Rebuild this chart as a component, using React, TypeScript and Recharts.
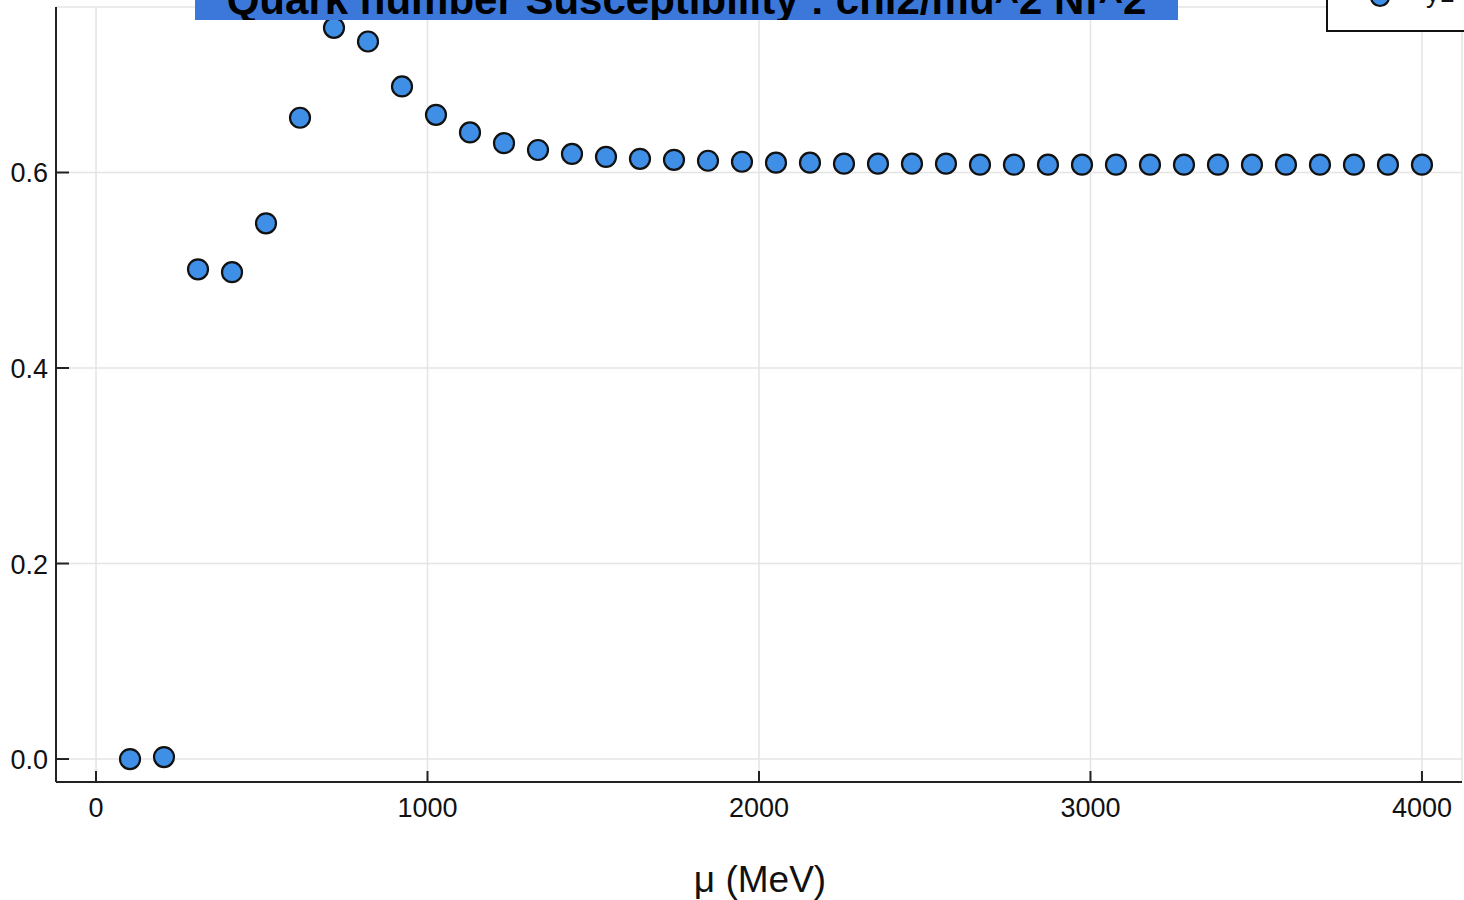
import React from "react";
import { ScatterChart, Scatter, XAxis, YAxis, CartesianGrid } from "recharts";

const muValues = [
  102.6, 205.1, 307.7, 410.3, 512.8, 615.4, 717.9, 820.5, 923.1, 1025.6,
  1128.2, 1230.8, 1333.3, 1435.9, 1538.5, 1641.0, 1743.6, 1846.2, 1948.7, 2051.3,
  2153.8, 2256.4, 2359.0, 2461.5, 2564.1, 2666.7, 2769.2, 2871.8, 2974.4, 3076.9,
  3179.5, 3282.1, 3384.6, 3487.2, 3589.7, 3692.3, 3794.9, 3897.4, 4000.0,
];
const chiValues = [
  0.0, 0.002, 0.501, 0.498, 0.548, 0.656, 0.748, 0.734, 0.688, 0.659,
  0.641, 0.630, 0.623, 0.619, 0.616, 0.614, 0.613, 0.612, 0.611, 0.610,
  0.610, 0.609, 0.609, 0.609, 0.609, 0.608, 0.608, 0.608, 0.608, 0.608,
  0.608, 0.608, 0.608, 0.608, 0.608, 0.608, 0.608, 0.608, 0.608,
];
const xTicks = [0, 1000, 2000, 3000, 4000];
const yTicks = [0.0, 0.2, 0.4, 0.6];
const yTickLabels = ["0.0", "0.2", "0.4", "0.6"];

const titleText = "Quark number Susceptibility : chi2/mu^2 Nf^2";
const xLabel = "μ (MeV)";
const legendLabel = "y1";

const data = muValues.map((x, i) => ({ x, y: chiValues[i] }));

const FONT = "'Liberation Sans', Arial, Helvetica, sans-serif";
const FILL = "#3f8fe6";

const Marker = (props: any) => {
  const { cx, cy } = props;
  return <circle cx={cx} cy={cy} r={10} fill={FILL} stroke="#111" strokeWidth={2.2} />;
};

const XTick = (props: any) => {
  const { x, y, payload } = props;
  return (
    <g>
      <line x1={x} y1={y} x2={x} y2={y - 11} stroke="#222" strokeWidth={2} />
      <text x={x} y={y + 35} textAnchor="middle" fontSize={27} fill="#111" fontFamily={FONT}>
        {payload.value}
      </text>
    </g>
  );
};

const YTick = (props: any) => {
  const { x, y, payload, index } = props;
  const idx = yTicks.indexOf(payload.value);
  return (
    <g>
      <line x1={x} y1={y} x2={x + 13} y2={y} stroke="#222" strokeWidth={2} />
      <text x={x - 8} y={y + 10} textAnchor="end" fontSize={27} fill="#111" fontFamily={FONT}>
        {idx >= 0 ? yTickLabels[idx] : yTickLabels[index]}
      </text>
    </g>
  );
};

export default function App() {
  return (
    <div
      style={{
        position: "absolute",
        left: 0,
        top: 0,
        width: 1464,
        height: 900,
        overflow: "hidden",
        background: "#fff",
        fontFamily: FONT,
      }}
    >
      <ScatterChart
        width={1464}
        height={900}
        margin={{ top: 7, right: 2, bottom: 0, left: 0 }}
      >
        <CartesianGrid stroke="#e4e4e4" strokeWidth={1.5} />
        <XAxis
          type="number"
          dataKey="x"
          domain={[-120.7, 4120.8]}
          ticks={xTicks}
          allowDataOverflow
          height={118}
          tickSize={0}
          tickMargin={0}
          tickLine={false}
          axisLine={{ stroke: "#222", strokeWidth: 2 }}
          tick={<XTick />}
          interval={0}
        />
        <YAxis
          type="number"
          dataKey="y"
          domain={[-0.0235, 0.7693]}
          ticks={yTicks}
          allowDataOverflow
          width={56}
          tickSize={0}
          tickMargin={0}
          tickLine={false}
          axisLine={{ stroke: "#222", strokeWidth: 2 }}
          tick={<YTick />}
          interval={0}
        />
        <Scatter data={data} shape={<Marker />} isAnimationActive={false} />
      </ScatterChart>

      <div
        style={{
          position: "absolute",
          left: 760,
          top: 840,
          transform: "translateX(-50%)",
          whiteSpace: "nowrap",
          fontSize: 37,
          color: "#111",
          lineHeight: "80px",
          height: 80,
        }}
      >
        {xLabel}
      </div>

      <div
        style={{
          position: "absolute",
          left: 195,
          top: 0,
          width: 983,
          height: 20,
          background: "#3b78d9",
          overflow: "hidden",
        }}
      >
        <div
          style={{
            position: "absolute",
            left: 0,
            width: 983,
            top: -21,
            textAlign: "center",
            fontWeight: "bold",
            fontSize: 42,
            lineHeight: "42px",
            color: "#000",
            whiteSpace: "nowrap",
          }}
        >
          {titleText}
        </div>
      </div>

      <div
        style={{
          position: "absolute",
          left: 1326,
          top: -40,
          width: 200,
          height: 68,
          border: "2px solid #111",
          background: "#fff",
        }}
      >
        <svg width={200} height={68} style={{ position: "absolute", left: 0, top: 0 }}>
          <circle cx={52} cy={35} r={9} fill={FILL} stroke="#111" strokeWidth={2.2} />
          <text x={98} y={40} fontSize={27} fill="#111" fontFamily={FONT}>
            {legendLabel}
          </text>
        </svg>
      </div>
    </div>
  );
}
